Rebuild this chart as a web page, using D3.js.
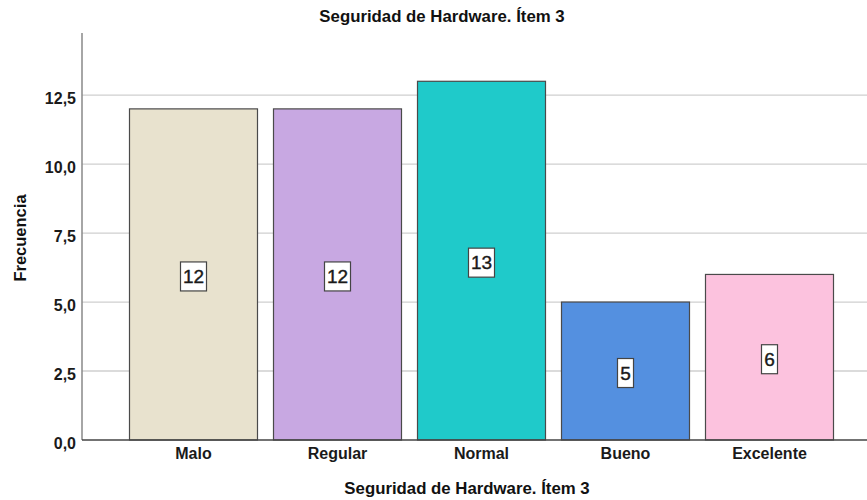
<!DOCTYPE html>
<html>
<head>
<meta charset="utf-8">
<script src="https://cdn.jsdelivr.net/npm/d3@7"></script>
<style>
  html, body { margin: 0; padding: 0; background: #fff; }
  svg text { font-family: "Liberation Sans", Arial, sans-serif; fill: #111; }
</style>
</head>
<body>
<svg id="chart" width="867" height="500"></svg>
<script>
// Frecuencias por categoría
const categories = ["Malo", "Regular", "Normal", "Bueno", "Excelente"];
const counts = [12, 12, 13, 5, 6];
const barColors = ["#E8E2CE", "#C8A8E2", "#1FCACA", "#5490E0", "#FCC2DE"];
const yTicks = [0, 2.5, 5, 7.5, 10, 12.5];
const chartTitle = "Seguridad de Hardware. Ítem 3";
const xTitle = "Seguridad de Hardware. Ítem 3";
const yTitle = "Frecuencia";

const svg = d3.select("#chart");
const W = 867;
const axisX = 82, baseY = 440, topY = 33;

const x = d3.scaleBand()
  .domain(categories)
  .range([129, 834])
  .paddingInner(15 / 144)
  .paddingOuter(0);

const y = d3.scaleLinear()
  .domain([0, 14.75])
  .range([baseY, topY]);

const fmt = d => d3.format(".1f")(d).replace(".", ",");

// Grid lines
svg.append("g")
  .selectAll("line")
  .data(yTicks.filter(d => d > 0))
  .join("line")
  .attr("x1", axisX).attr("x2", W)
  .attr("y1", d => y(d)).attr("y2", d => y(d))
  .attr("stroke", "#cfcfcf").attr("stroke-width", 1.3);

// Y axis
const yAxis = d3.axisLeft(y).tickValues(yTicks).tickFormat(fmt).tickSize(0).tickPadding(6);
const gy = svg.append("g").attr("transform", `translate(${axisX},0)`).call(yAxis);
gy.select(".domain").remove();
gy.selectAll("text")
  .attr("dy", "0.55em")
  .style("font-size", "16px").style("font-weight", "bold").style("fill", "#1a1a1a");

// Bars
const rowData = categories.map((c, i) => ({ cat: c, value: counts[i], color: barColors[i] }));
svg.append("g")
  .selectAll("rect")
  .data(rowData)
  .join("rect")
  .attr("x", d => x(d.cat) + 0.5)
  .attr("y", d => y(d.value))
  .attr("width", x.bandwidth() - 1)
  .attr("height", d => baseY - y(d.value))
  .attr("fill", d => d.color)
  .attr("stroke", "#4a4a4a").attr("stroke-width", 1.2);

// Axis lines
svg.append("line")
  .attr("x1", axisX).attr("x2", axisX).attr("y1", topY).attr("y2", baseY)
  .attr("stroke", "#888").attr("stroke-width", 1.5);
svg.append("line")
  .attr("x1", axisX).attr("x2", W).attr("y1", baseY).attr("y2", baseY)
  .attr("stroke", "#444").attr("stroke-width", 1.3);

// X axis labels
const xAxis = d3.axisBottom(x).tickSize(0).tickPadding(8);
const gx = svg.append("g").attr("transform", `translate(0,${baseY})`).call(xAxis);
gx.select(".domain").remove();
gx.selectAll("text")
  .style("font-size", "16px").style("font-weight", "bold").style("fill", "#1a1a1a");

// Value labels in boxes
const lab = svg.append("g")
  .selectAll("g")
  .data(rowData)
  .join("g")
  .attr("transform", d => `translate(${x(d.cat) + x.bandwidth() / 2},${y(d.value / 2) + 2})`);
lab.append("rect")
  .attr("x", d => d.value >= 10 ? -13 : -8)
  .attr("y", -14.5)
  .attr("width", d => d.value >= 10 ? 26 : 16)
  .attr("height", 29)
  .attr("fill", "#fff")
  .attr("stroke", "#444").attr("stroke-width", 1.2);
lab.append("text")
  .attr("text-anchor", "middle")
  .attr("dy", "0.36em")
  .style("font-size", "19px").style("fill", "#1a1a1a")
  .style("stroke", "#1a1a1a").style("stroke-width", "0.4px")
  .text(d => d.value);

// Titles
svg.append("text")
  .attr("x", 442).attr("y", 22)
  .attr("text-anchor", "middle")
  .style("font-size", "16.8px").style("font-weight", "bold")
  .text(chartTitle);

svg.append("text")
  .attr("x", 467).attr("y", 494)
  .attr("text-anchor", "middle")
  .style("font-size", "16.8px").style("font-weight", "bold")
  .text(xTitle);

svg.append("text")
  .attr("transform", "translate(26,238) rotate(-90)")
  .attr("text-anchor", "middle")
  .style("font-size", "16.5px").style("font-weight", "bold")
  .text(yTitle);
</script>
</body>
</html>
